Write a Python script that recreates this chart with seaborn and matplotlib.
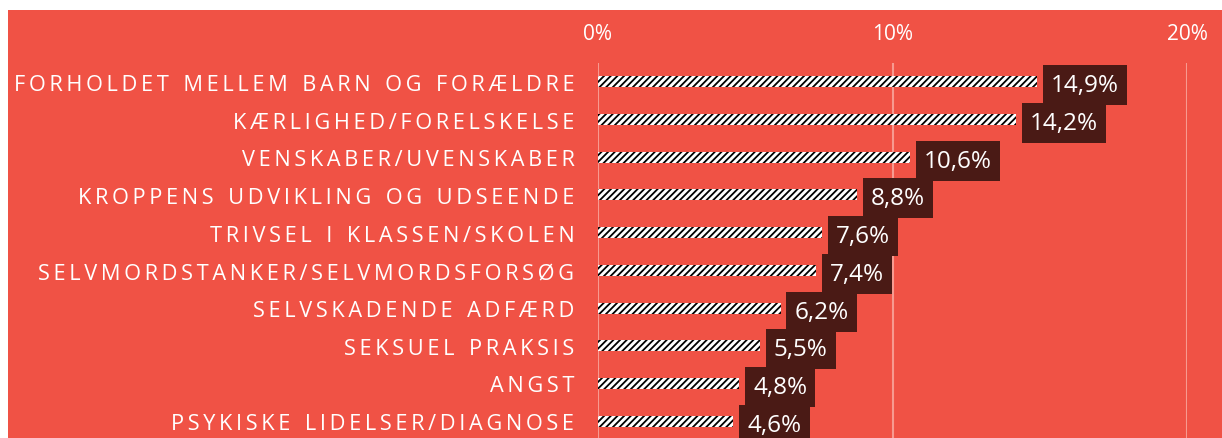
import matplotlib
matplotlib.use('Agg')
import matplotlib.pyplot as plt
import seaborn as sns
import pandas as pd
from matplotlib.patches import Rectangle

# data
kategorier = ['FORHOLDET MELLEM BARN OG FORÆLDRE', 'KÆRLIGHED/FORELSKELSE',
              'VENSKABER/UVENSKABER', 'KROPPENS UDVIKLING OG UDSEENDE',
              'TRIVSEL I KLASSEN/SKOLEN', 'SELVMORDSTANKER/SELVMORDSFORSØG',
              'SELVSKADENDE ADFÆRD', 'SEKSUEL PRAKSIS', 'ANGST',
              'PSYKISKE LIDELSER/DIAGNOSE']
andel = [14.9, 14.2, 10.6, 8.8, 7.6, 7.4, 6.2, 5.5, 4.8, 4.6]
xticks = [0, 10, 20]
xtick_labels = ['0%', '10%', '20%']

rod = '#F05245'
brun = '#4A1A15'

sns.set_theme(style='white')
plt.rcParams['font.family'] = ['Open Sans', 'DejaVu Sans']
plt.rcParams['hatch.linewidth'] = 1.3
plt.rcParams['hatch.color'] = 'black'

df = pd.DataFrame({'kategori': kategorier, 'andel': andel})

fig = plt.figure(figsize=(12.22, 4.39), dpi=100)
fig.patch.set_facecolor('white')
# rødt panel
fig.patches.append(Rectangle((8 / 1222, 0), 1 - 8 / 1222, 1 - 11 / 439,
                             transform=fig.transFigure, facecolor=rod,
                             edgecolor='none', zorder=-10))

ax = fig.add_axes([598 / 1222, -2 / 439, 589 / 1222, 377 / 439])
ax.set_facecolor('none')

sns.barplot(data=df, x='andel', y='kategori', orient='h', ax=ax,
            color='white', width=0.29, edgecolor='black', linewidth=0,
            hatch='/////', zorder=3)

ax.set_xlim(0, 20)
ax.set_xticks(xticks)
ax.set_xticklabels(xtick_labels)
ax.xaxis.tick_top()
ax.tick_params(axis='x', length=0, pad=14, labelsize=15, labelcolor='white')
ax.tick_params(axis='y', length=0, pad=17)
ax.grid(axis='x', color='#F79A90', linewidth=1.5, zorder=0)
ax.set_axisbelow(True)
ax.set_xlabel('')
ax.set_ylabel('')
for s in ax.spines.values():
    s.set_visible(False)


# spærret tekst
def spaced(t):
    ord_ = ['\u2009'.join(list(w)) for w in t.split(' ')]
    return '\u2009\u2009\u2009\u2009'.join(ord_)


ax.set_yticks(range(len(kategorier)))
ax.set_yticklabels([spaced(k) for k in kategorier], fontsize=15.7, color='white')
for lab in ax.get_yticklabels():
    lab.set_family(['Open Sans', 'DejaVu Sans'])

# værdi-etiketter
for i, v in enumerate(andel):
    ax.annotate(f'{v:.1f}'.replace('.', ',') + '%', xy=(v, i), xytext=(10, -2.5),
                textcoords='offset points', ha='left', va='center',
                color='white', fontsize=17.5, zorder=5,
                bbox=dict(boxstyle='square,pad=0.33', facecolor=brun,
                          edgecolor='none'),
                annotation_clip=False)

fig.savefig('out.png', dpi=100)
